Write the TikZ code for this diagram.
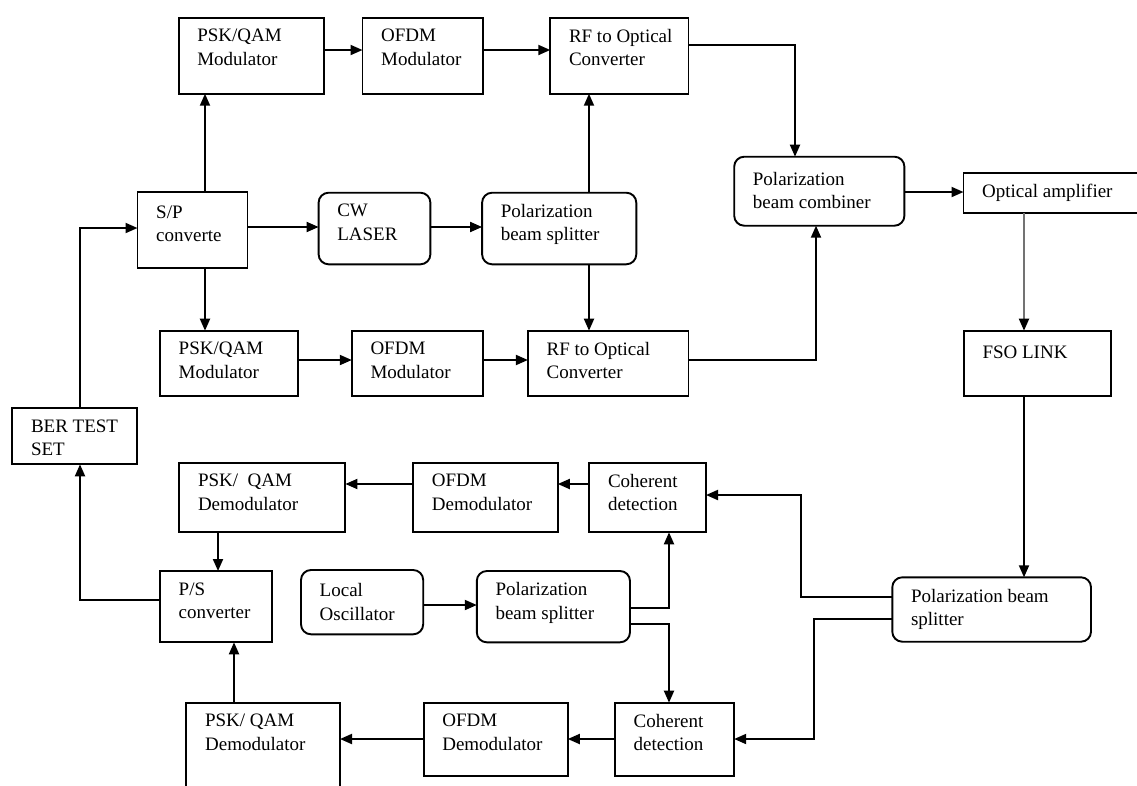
\documentclass[tikz,border=0pt]{standalone}
\usepackage{fontspec}
\setmainfont{Liberation Serif}
\usetikzlibrary{arrows.meta, calc}

\tikzset{
  blk/.style={draw, line width=1.9pt, anchor=north west, inner sep=0pt, outer sep=0pt},
  rblk/.style={blk, rounded corners=10pt},
  txt/.style={anchor=north west, inner sep=0pt, xshift=18.5pt, yshift=-11.5pt, align=left,
    font=\fontsize{19}{23.3}\selectfont},
  lbl/.style={label={[txt]north west:{#1}}},
  arr/.style={line width=1.9pt, -{Triangle[length=12pt,width=10pt]}},
}

\begin{document}
\begin{tikzpicture}[x=1pt, y=-1pt]
\useasboundingbox (0,0) rectangle (1137,785);
\clip (0,0) rectangle (1137,785);

% transmitter
\node[blk, minimum width=145.7pt, minimum height=76pt, lbl={PSK/QAM\\Modulator}] (pskT) at (178.6,17.7) {};
\node[blk, minimum width=120.4pt, minimum height=76pt, lbl={OFDM\\Modulator}] (ofdmT) at (362.5,17.7) {};
\node[blk, minimum width=138.2pt, minimum height=76pt, lbl={RF to Optical\\Converter}] (rfT) at (550.3,17.7) {};
\node[blk, minimum width=110pt, minimum height=76pt, label={[txt, yshift=-2pt]north west:{S/P\\converte}}] (sp) at (137.5,192) {};
\node[rblk, minimum width=111.8pt, minimum height=71.6pt, lbl={CW\\LASER}] (cw) at (318.6,192.7) {};
\node[rblk, minimum width=154.2pt, minimum height=71.6pt, lbl={Polarization\\beam splitter}] (pbsT) at (482.1,192.7) {};
\node[rblk, minimum width=170.2pt, minimum height=69pt, label={[txt, yshift=-3.5pt]north west:{Polarization\\beam combiner}}] (pbc) at (734.2,156.7) {};
\node[blk, minimum width=200pt, minimum height=40.6pt, lbl={Optical amplifier}] (amp) at (963.5,172.7) {};
\node[blk, minimum width=147.4pt, minimum height=65pt, label={[txt, yshift=-3.5pt]north west:{FSO LINK}}] (fso) at (963.8,330.7) {};
\node[blk, minimum width=138.2pt, minimum height=65pt, lbl={PSK/QAM\\Modulator}] (pskB) at (160,330.7) {};
\node[blk, minimum width=131.1pt, minimum height=65pt, lbl={OFDM\\Modulator}] (ofdmB) at (351.8,330.7) {};
\node[blk, minimum width=160.6pt, minimum height=65pt, lbl={RF to Optical\\Converter}] (rfB) at (527.9,330.7) {};

% receiver
\node[blk, minimum width=125pt, minimum height=56pt, lbl={BER TEST\\SET}] (ber) at (12.3,408.3) {};
\node[blk, minimum width=166.1pt, minimum height=69.6pt, lbl={PSK/~ QAM\\Demodulator}] (pskDa) at (179.3,462.7) {};
\node[blk, minimum width=144.6pt, minimum height=69.6pt, lbl={OFDM\\Demodulator}] (ofdmDa) at (413.2,462.7) {};
\node[blk, minimum width=116.7pt, minimum height=69.6pt, lbl={Coherent\\detection}] (cohT) at (589.3,462.7) {};
\node[blk, minimum width=112.1pt, minimum height=71.3pt, lbl={P/S\\converter}] (ps) at (160,571) {};
\node[rblk, minimum width=122.2pt, minimum height=64.3pt, label={[txt, yshift=-2pt]north west:{Local\\Oscillator}}] (lo) at (301,570) {};
\node[rblk, minimum width=153.2pt, minimum height=71.3pt, lbl={Polarization\\beam splitter}] (pbsM) at (476.8,571) {};
\node[rblk, minimum width=198.7pt, minimum height=64.4pt, lbl={Polarization beam\\splitter}] (pbsR) at (892.3,577.3) {};
\node[blk, minimum width=153.6pt, minimum height=120pt, lbl={PSK/ QAM\\Demodulator}] (pskDb) at (186.4,702.7) {};
\node[blk, minimum width=144.2pt, minimum height=73.3pt, lbl={OFDM\\Demodulator}] (ofdmDb) at (423.6,702.7) {};
\node[blk, minimum width=119.2pt, minimum height=73.3pt, lbl={Coherent\\detection}] (cohB) at (615,702.7) {};

% transmitter links
\draw[arr] (pskT.east |- 0,50) -- (ofdmT.west |- 0,50);
\draw[arr] (ofdmT.east |- 0,50) -- (rfT.west |- 0,50);
\draw[arr] (sp.north -| 205,0) -- (pskT.south -| 205,0);
\draw[arr] (sp.south -| 205,0) -- (pskB.north -| 205,0);
\draw[arr] (sp.east |- 0,227) -- (cw.west |- 0,227);
\draw[arr] (cw.east |- 0,227) -- (pbsT.west |- 0,227);
\draw[arr] (pbsT.north -| 589,0) -- (rfT.south -| 589,0);
\draw[arr] (pbsT.south -| 589,0) -- (rfB.north -| 589,0);
\draw[arr] (pskB.east |- 0,360) -- (ofdmB.west |- 0,360);
\draw[arr] (ofdmB.east |- 0,360) -- (rfB.west |- 0,360);
\draw[arr] (rfT.east |- 0,45) -| (pbc.north -| 795,0);
\draw[arr] (rfB.east |- 0,360) -| (pbc.south -| 816,0);
\draw[arr] (pbc.east |- 0,192) -- (amp.west |- 0,192);
\draw[arr, draw=black!55, -{Triangle[length=12pt,width=10pt,color=black]}] (amp.south -| 1024,0) -- (fso.north -| 1024,0);
\draw[arr] (fso.south -| 1024,0) -- (pbsR.north -| 1024,0);

% receiver links
\draw[arr] (pbsR.west |- 0,597) -| (801,495) -- (cohT.east |- 0,495);
\draw[arr] (pbsR.west |- 0,619) -| (814,739) -- (cohB.east |- 0,739);
\draw[arr] (lo.east |- 0,605) -- (pbsM.west |- 0,605);
\draw[arr] (pbsM.east |- 0,608) -| (cohT.south -| 669,0);
\draw[arr] (pbsM.east |- 0,624) -| (cohB.north -| 669,0);
\draw[arr] (cohT.west |- 0,484) -- (ofdmDa.east |- 0,484);
\draw[arr] (ofdmDa.west |- 0,484) -- (pskDa.east |- 0,484);
\draw[arr] (cohB.west |- 0,739) -- (ofdmDb.east |- 0,739);
\draw[arr] (ofdmDb.west |- 0,739) -- (pskDb.east |- 0,739);
\draw[arr] (pskDa.south -| 218,0) -- (ps.north -| 218,0);
\draw[arr] (pskDb.north -| 234,0) -- (ps.south -| 234,0);
\draw[arr] (ps.west |- 0,600) -| (ber.south -| 80,0);
\draw[arr] (ber.north -| 80,0) |- (sp.west |- 0,228);
\end{tikzpicture}
\end{document}
